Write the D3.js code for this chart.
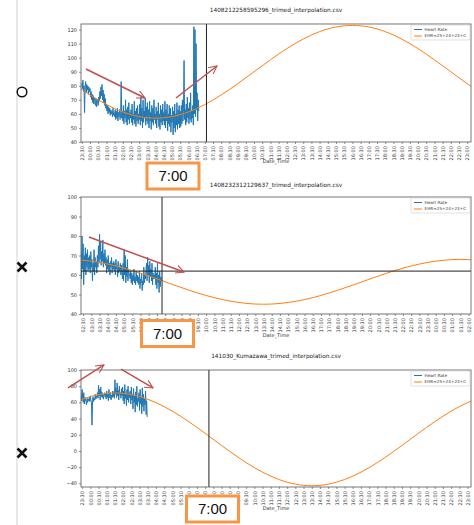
<!DOCTYPE html>
<html>
<head>
<meta charset="utf-8">
<script src="https://cdn.jsdelivr.net/npm/d3@7"></script>
<style>
body { margin: 0; background: #fff; }
svg { display: block; font-family: "DejaVu Sans", sans-serif; }
</style>
</head>
<body>
<div id="chart"></div>
<script>
/* -----------------------
data (hours: 24 = next day 00:00)
------------------------- */

var titles = ["1408212258595296_trimed_interpolation.csv",
              "1408232312129637_trimed_interpolation.csv",
              "141030_Kumazawa_trimed_interpolation.csv"];
var legendLabels = ["Heart Rate", "EHR=25+24+23+C"];
var xLabel = "Date_Time";
var verdicts = ["o", "x", "x"];
var boxLabel = "7:00";

// heart rate samples, one every 2 minutes
var hrStep = 2 / 60;
var hr1Start = 23.5;
var hr1 = [82,78,84,76,80,61,79,83,75,81,77,80,74,79,76,
           78,72,76,70,74,68,73,67,72,69,66,71,65,70,68,
           66,72,69,76,71,79,73,81,70,77,68,74,66,71,64,
           67,62,66,60,65,61,64,59,63,60,62,58,64,59,61,
           58,63,56,62,57,64,55,61,58,63,56,60,83,57,62,
           55,66,53,62,57,70,54,63,52,65,56,68,53,61,57,
           63,54,67,52,60,56,69,53,62,51,64,55,66,53,60,
           56,67,52,72,55,64,50,70,54,62,57,71,52,65,55,
           68,53,63,50,69,55,61,49,66,54,64,52,70,56,60,
           53,65,50,62,56,68,51,60,49,66,54,63,52,67,55,
           61,52,69,50,63,55,67,48,60,53,66,51,64,47,59,
           54,65,45,62,50,67,47,60,52,68,49,63,53,66,50,
           62,51,66,53,70,55,64,98,56,63,52,67,54,72,57,
           64,53,68,56,75,54,62,57,66,52,122,60,120,58,110,
           63,75,55,70,62];
var hr2Start = 2 + 22 / 60;
var hr2 = [72,58,80,63,76,55,70,62,74,60,71,64,73,62,69,
           63,70,61,72,64,68,57,66,62,73,60,69,64,67,61,
           70,64,75,66,81,68,77,65,72,67,78,64,71,66,73,
           65,69,61,68,63,70,62,66,60,67,64,69,61,66,63,
           67,62,66,60,68,63,65,59,67,61,64,62,66,60,65,
           62,58,66,57,73,60,70,56,64,59,68,57,63,61,60,
           58,62,56,61,55,60,57,63,56,59,55,62,57,60,56,
           59,55,62,53,58,56,61,52,57,55,64,56,60,58,63,
           66,57,69,60,65,56,67,59,63,57,66,55,61,58,60,
           58,64,55,61,53,66,56,60,51,62,54,59,57];
var hr3Start = 23 + 26 / 60;
var hr3 = [70,62,76,65,60,72,58,66,63,61,57,65,60,64,62,
           66,61,68,63,60,32,62,67,61,65,63,70,64,68,66,
           72,65,81,68,76,63,79,67,73,66,70,64,69,72,67,
           71,64,74,66,70,62,76,68,65,72,63,69,66,74,67,
           73,65,88,70,78,66,84,68,75,63,80,69,72,65,77,
           68,79,62,74,58,82,65,71,56,76,63,80,60,72,66,
           74,58,79,63,70,52,77,60,68,48,73,57,80,55,65,
           61,72,50,76,58,67,46,78,55,70,49,64,57,74,45,62,42];

// EHR curve, read hourly
var ehr1Start = 23;
var ehr1 = [81.5,73.5,66.7,61.4,58.1,57,58.1,61.4,66.7,73.5,81.5,90,98.5,
            106.5,113.3,118.6,121.9,123,121.9,118.6,113.3,106.5,98.5,90,81.5,73.5];
var ehr2Start = 2;
var ehr2 = [67.9,67.1,65.6,63.5,60.9,58.0,55.0,52.1,49.5,47.4,45.9,45.1,45.1,
            45.9,47.4,49.5,52.1,55.0,58.0,60.9,63.5,65.6,67.1,67.9,67.9,67.1];
var ehr3Start = 23;
var ehr3 = [59.7,67.2,71.1,71.1,67.2,59.7,49.2,36.2,21.8,6.8,-7.6,-20.6,-31.1,
            -38.6,-42.5,-42.5,-38.6,-31.1,-20.6,-7.6,6.8,21.8,36.2,49.2,59.7,67.2];

var xDomains = [[23.45, 47.23], [2.37, 26.15], [23.43, 47.21]];
var yDomains = [[40, 124], [40, 100], [-44.5, 100]];
var yTickSets = [d3.range(40, 121, 10), d3.range(40, 101, 10), d3.range(-40, 101, 20)];
var xTickStarts = [23.5, 2.5, 23.5];
var vLines = [31.1, 7.31, 31.23];
var hLines = [null, 62, null];

// annotation arrows [x0, y0, x1, y1] in data units
var arrows1 = [[23.75, 92, 27.35, 71.3], [29.24, 71.3, 31.74, 94.1]];
var arrows2 = [[2.85, 79.5, 8.65, 61.5]];
var arrows3 = [[22.64, 77.8, 24.83, 106.2], [25.87, 101.2, 27.82, 77.8]];

/* -----------------------
layout
------------------------- */

var width = 474, height = 525;
var left = 81, right = 471;
var tops = [24, 197, 370], bottoms = [142, 314, 487];
var titleYs = [10, 185, 356];
var labelYs = [163, 337, 510];
var boxCenters = [[173, 176], [167.5, 333.5], [212.5, 509]];
var markYs = [92, 267, 453];

var blue = "#1f77b4", orange = "#ff7f0e", red = "#c0504d";

var svg = d3.select("#chart").append("svg")
    .attr("width", width)
    .attr("height", height);

svg.append("defs").append("marker")
    .attr("id", "head")
    .attr("viewBox", "0 -5 10 10")
    .attr("refX", 9).attr("refY", 0)
    .attr("markerWidth", 6).attr("markerHeight", 6)
    .attr("markerUnits", "strokeWidth")
    .attr("orient", "auto")
  .append("path")
    .attr("d", "M0,-4.5L9,0L0,4.5")
    .attr("fill", "none")
    .attr("stroke", red)
    .attr("stroke-width", 1.2);

// left divider + verdict marks
svg.append("line")
    .attr("x1", 17).attr("x2", 17).attr("y1", 0).attr("y2", height)
    .attr("stroke", "#d0d0d0").attr("stroke-width", 1);

function fmt(h) {
    var m = Math.round(h * 60) % 1440;
    var hh = Math.floor(m / 60), mm = m % 60;
    return (hh < 10 ? "0" : "") + hh + ":" + (mm < 10 ? "0" : "") + mm;
}

var hrs = [hr1, hr2, hr3], hrStarts = [hr1Start, hr2Start, hr3Start];
var ehrs = [ehr1, ehr2, ehr3], ehrStarts = [ehr1Start, ehr2Start, ehr3Start];
var arrowSets = [arrows1, arrows2, arrows3];

titles.forEach(function(title, i) {
    var x = d3.scaleLinear().domain(xDomains[i]).range([left, right]);
    var y = d3.scaleLinear().domain(yDomains[i]).range([bottoms[i], tops[i]]);
    var g = svg.append("g");

    g.append("clipPath").attr("id", "clip" + i)
      .append("rect")
        .attr("x", left).attr("y", tops[i])
        .attr("width", right - left).attr("height", bottoms[i] - tops[i]);

    g.append("text")
        .attr("x", (left + right) / 2).attr("y", titleYs[i])
        .attr("dy", "0.35em")
        .attr("text-anchor", "middle")
        .attr("font-size", "5.8px")
        .attr("fill", "#222")
        .text(title);

    var plot = g.append("g").attr("clip-path", "url(#clip" + i + ")");

    var hrData = hrs[i].map(function(v, k) { return [hrStarts[i] + k * hrStep, v]; });
    var ehrData = ehrs[i].map(function(v, k) { return [ehrStarts[i] + k, v]; });

    plot.append("path")
        .datum(hrData)
        .attr("d", d3.line().x(function(d) { return x(d[0]); }).y(function(d) { return y(d[1]); }))
        .attr("fill", "none")
        .attr("stroke", blue)
        .attr("stroke-width", 1);

    plot.append("path")
        .datum(ehrData)
        .attr("d", d3.line().curve(d3.curveCatmullRom)
            .x(function(d) { return x(d[0]); }).y(function(d) { return y(d[1]); }))
        .attr("fill", "none")
        .attr("stroke", orange)
        .attr("stroke-width", 1);

    plot.append("line")
        .attr("x1", x(vLines[i])).attr("x2", x(vLines[i]))
        .attr("y1", tops[i]).attr("y2", bottoms[i])
        .attr("stroke", "#222").attr("stroke-width", 1);

    if (hLines[i] !== null) {
        plot.append("line")
            .attr("x1", left).attr("x2", right)
            .attr("y1", y(hLines[i])).attr("y2", y(hLines[i]))
            .attr("stroke", "#222").attr("stroke-width", 1);
    }

    // axes
    var yAxis = g.append("g")
        .attr("transform", "translate(" + left + ",0)")
        .call(d3.axisLeft(y).tickValues(yTickSets[i]).tickSize(2).tickPadding(2));
    var xAxis = g.append("g")
        .attr("transform", "translate(0," + bottoms[i] + ")")
        .call(d3.axisBottom(x)
            .tickValues(d3.range(xTickStarts[i], xDomains[i][1], 0.5))
            .tickFormat(fmt).tickSize(2).tickPadding(2));
    [xAxis, yAxis].forEach(function(a) {
        a.select(".domain").remove();
        a.selectAll("line").attr("stroke", "#444").attr("stroke-width", 0.6);
        a.selectAll("text").attr("font-size", "5px").attr("fill", "#333")
            .attr("font-family", "DejaVu Sans, sans-serif");
    });
    xAxis.selectAll("text")
        .attr("transform", "rotate(-90)")
        .attr("text-anchor", "end")
        .attr("x", -4).attr("y", 0).attr("dy", "0.35em");

    g.append("rect")
        .attr("x", left).attr("y", tops[i])
        .attr("width", right - left).attr("height", bottoms[i] - tops[i])
        .attr("fill", "none").attr("stroke", "#555").attr("stroke-width", 0.8);

    g.append("text")
        .attr("x", (left + right) / 2).attr("y", labelYs[i])
        .attr("text-anchor", "middle")
        .attr("font-size", "5px").attr("fill", "#333")
        .text(xLabel);

    // legend
    var lg = g.append("g").attr("transform", "translate(" + (right - 60) + "," + (tops[i] + 1) + ")");
    lg.append("rect").attr("width", 59).attr("height", 15)
        .attr("fill", "#fff").attr("fill-opacity", 0.8)
        .attr("stroke", "#ccc").attr("stroke-width", 0.6).attr("rx", 1);
    legendLabels.forEach(function(lab, k) {
        var yy = 4.5 + k * 6.5;
        lg.append("line").attr("x1", 3).attr("x2", 11).attr("y1", yy).attr("y2", yy)
            .attr("stroke", k === 0 ? blue : orange).attr("stroke-width", 1);
        lg.append("text").attr("x", 13.5).attr("y", yy).attr("dy", "0.35em")
            .attr("font-size", "4.2px").attr("fill", "#333").text(lab);
    });

    // red arrows
    arrowSets[i].forEach(function(a) {
        svg.append("line")
            .attr("x1", x(a[0])).attr("y1", y(a[1]))
            .attr("x2", x(a[2])).attr("y2", y(a[3]))
            .attr("stroke", red).attr("stroke-width", 1.5)
            .attr("marker-end", "url(#head)");
    });

    // 7:00 box
    var b = boxCenters[i];
    svg.append("rect")
        .attr("x", b[0] - 26).attr("y", b[1] - 13)
        .attr("width", 52).attr("height", 26)
        .attr("fill", "#fff").attr("stroke", "#f79646").attr("stroke-width", 3);
    svg.append("text")
        .attr("x", b[0]).attr("y", b[1]).attr("dy", "0.36em")
        .attr("text-anchor", "middle")
        .attr("font-family", "Liberation Sans, Arial, sans-serif")
        .attr("font-size", "15px").attr("fill", "#111")
        .text(boxLabel);

    // verdict mark
    var my = markYs[i];
    if (verdicts[i] === "o") {
        svg.append("circle").attr("cx", 22).attr("cy", my).attr("r", 4.8)
            .attr("fill", "#fff").attr("stroke", "#111").attr("stroke-width", 1.5);
    } else {
        svg.append("path")
            .attr("d", "M" + 17.5 + "," + (my - 4.5) + "L" + 26.5 + "," + (my + 4.5) +
                       "M" + 26.5 + "," + (my - 4.5) + "L" + 17.5 + "," + (my + 4.5))
            .attr("stroke", "#111").attr("stroke-width", 2.6);
    }
});
</script>
</body>
</html>
